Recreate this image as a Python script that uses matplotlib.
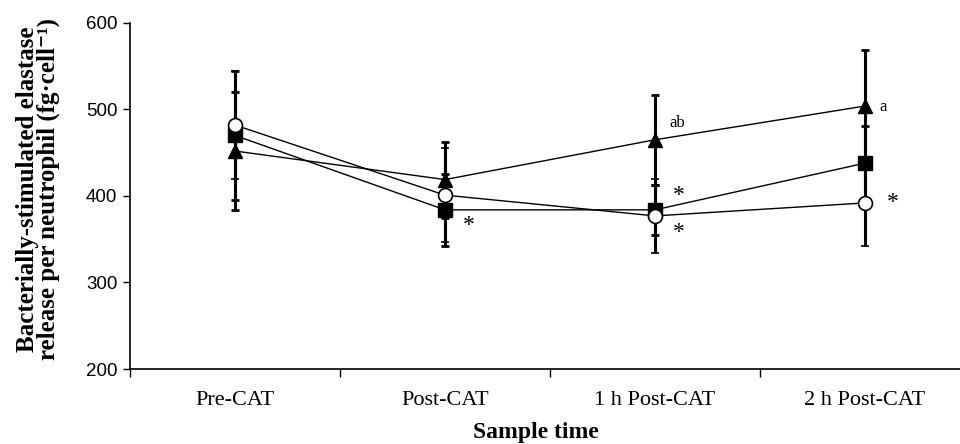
import matplotlib
matplotlib.use("Agg")
import matplotlib.pyplot as plt
import numpy as np

categories = ["Pre-CAT", "Post-CAT", "1 h Post-CAT", "2 h Post-CAT"]
circle_vals = [482, 401, 377, 392]
circle_err = [62, 54, 43, 50]
square_vals = [470, 384, 384, 438]
square_err = [75, 42, 29, 43]
triangle_vals = [452, 419, 465, 504]
triangle_err = [68, 44, 52, 65]

ann_x = [1, 2, 2, 2, 3, 3]
ann_y = [372, 407, 364, 484, 503, 399]
ann_text = ["*", "*", "*", "ab", "a", "*"]

W, H = 960, 444
fig = plt.figure(figsize=(W / 100, H / 100), dpi=100)
ax = fig.add_axes([130 / W, 75 / H, 840 / W, 346 / H])

x = np.arange(len(categories))
serif = ["Liberation Serif", "DejaVu Serif"]

common = dict(color="black", linewidth=1.0, ecolor="black", elinewidth=2.2,
              capsize=3.2, capthick=2.0, markersize=10, zorder=3)
ax.errorbar(x, triangle_vals, yerr=triangle_err, marker="^", markerfacecolor="black",
            markeredgecolor="black", **common)
ax.errorbar(x, square_vals, yerr=square_err, marker="s", markerfacecolor="black",
            markeredgecolor="black", **common)
ax.errorbar(x, circle_vals, yerr=circle_err, marker="o", markerfacecolor="white",
            markeredgecolor="black", markeredgewidth=1.2, **common)

ax.set_xlim(-0.5, len(categories) - 0.5)
ax.set_ylim(200, 600)
ax.set_yticks([200, 300, 400, 500, 600])
ax.tick_params(axis="y", direction="out", length=5, width=1, labelsize=13.5, pad=4)
for lab in ax.get_yticklabels():
    lab.set_family(["Liberation Sans", "DejaVu Sans"])

ax.set_xticks(np.arange(len(categories) + 1) - 0.5)
ax.set_xticklabels([])
ax.set_xticks(x, minor=True)
ax.set_xticklabels(categories, minor=True, family=serif, fontsize=16)
ax.tick_params(axis="x", which="major", direction="out", length=6, width=1)
ax.tick_params(axis="x", which="minor", length=0, pad=16)

for s in ["top", "right"]:
    ax.spines[s].set_visible(False)
for s in ["left", "bottom"]:
    ax.spines[s].set_linewidth(1.2)

ax.set_xlabel("Sample time", family=serif, fontsize=17, fontweight="bold")
ax.xaxis.set_label_coords(0.483, -0.152)
ax.xaxis.label.set_va("top")
ax.set_ylabel("Bacterially-stimulated elastase\nrelease per neutrophil (fg\u00b7cell\u207b\u00b9)",
              family=serif, fontsize=18, fontweight="bold", linespacing=0.88)
ax.yaxis.set_label_coords(-0.083, 0.52)

# significance annotations
for xi, yi, t in zip(ann_x, ann_y, ann_text):
    if t == "*":
        dx = 28 if xi == 3 else 24
        ax.annotate(t, (xi, yi), xytext=(dx, -11), textcoords="offset pixels",
                    family=serif, fontsize=17, ha="center", va="baseline")
    else:
        ax.annotate(t, (xi, yi), xytext=(22 if t == "ab" else 18, 0), textcoords="offset pixels",
                    family=serif, fontsize=12, ha="center", va="center")

fig.savefig("out.png", dpi=100)
